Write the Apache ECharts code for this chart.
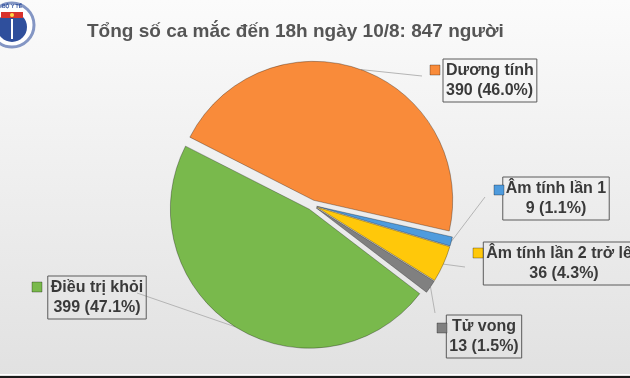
<!DOCTYPE html>
<html>
<head>
<meta charset="utf-8">
<script src="https://cdn.jsdelivr.net/npm/echarts@6/dist/echarts.min.js"></script>
<style>
  html, body { margin: 0; padding: 0; }
  #chart { width: 630px; height: 378px; }
</style>
</head>
<body>
<div id="chart"></div>
<script>
// dữ liệu biểu đồ
const categories = ['Dương tính', 'Âm tính lần 1', 'Âm tính lần 2 trở lên', 'Tử vong', 'Điều trị khỏi'];
const values = [390, 9, 36, 13, 399];
const colors = ['#F98B3A', '#4E9BDD', '#FFC80A', '#808080', '#79B94C'];

const total = values.reduce((a, b) => a + b, 0);

// bố cục
const CENTER = [312, 205];
const RADIUS = 139;
const START = 153;
const EXPLODE = 5; // độ tách miếng (px)

// vị trí hộp nhãn + điểm cuối đường dẫn
const labelBoxes = [
  { x: 443, y: 59, align: 'left', end: [422, 76] },
  { x: 556, y: 177, align: 'center', end: [485, 197] },
  { x: 564, y: 242, align: 'center', end: [465, 267] },
  { x: 484, y: 315, align: 'center', end: [435, 313] },
  { x: 97, y: 276, align: 'center', end: [137, 293] },
];
// vị trí ô màu chú giải
const markerPos = [[430, 65], [494, 185], [473, 248], [437, 323], [32, 282]];

const myChart = echarts.init(document.getElementById('chart'));

// mỗi miếng là một series riêng (cùng dữ liệu) để dịch tâm ra ngoài
let cum = 0;
const series = categories.map((cat, k) => {
  const mid = START - 360 * (cum + values[k] / 2) / total;
  cum += values[k];
  const rad = mid * Math.PI / 180;
  const cx = CENTER[0] + EXPLODE * Math.cos(rad);
  const cy = CENTER[1] - EXPLODE * Math.sin(rad);
  return {
    name: cat,
    type: 'pie',
    center: [cx, cy],
    radius: RADIUS,
    startAngle: START,
    clockwise: true,
    avoidLabelOverlap: false,
    silent: true,
    emphasis: { disabled: true },
    label: {
      position: 'outside',
      formatter: p => `${p.name}\n${p.value} (${(p.value / total * 100).toFixed(1)}%)`,
      color: '#3a3a3a',
      fontSize: 16,
      fontWeight: 'bold',
      fontFamily: 'Liberation Sans, Arial, sans-serif',
      lineHeight: 20,
      borderColor: '#5a5a5a',
      borderWidth: 1,
      padding: [2, 3, 1, 3],
    },
    labelLine: {
      lineStyle: { color: '#b5b5b5', width: 1 },
    },
    labelLayout: params => {
      const b = labelBoxes[params.dataIndex];
      const pts = params.labelLinePoints;
      const res = { x: b.x, y: b.y, align: b.align, verticalAlign: 'top' };
      if (pts && pts.length) res.labelLinePoints = [pts[0], b.end, b.end];
      return res;
    },
    data: categories.map((name, i) => ({
      name,
      value: values[i],
      itemStyle: i === k
        ? { color: colors[i], borderColor: 'rgba(0,0,0,0.3)', borderWidth: 1 }
        : { color: 'transparent', borderWidth: 0 },
      label: { show: i === k },
      labelLine: { show: i === k },
    })),
  };
});

const option = {
  backgroundColor: {
    type: 'linear', x: 0, y: 0, x2: 0, y2: 1,
    colorStops: [{ offset: 0, color: '#fbfbfb' }, { offset: 1, color: '#e1e1e1' }],
  },
  animation: false,
  title: {
    text: 'Tổng số ca mắc đến 18h ngày 10/8: 847 người',
    left: 82,
    top: 17,
    textStyle: {
      color: '#555555',
      fontSize: 19,
      fontWeight: 'bold',
      fontFamily: 'Liberation Sans, Arial, sans-serif',
    },
  },
  series,
  graphic: [
    // logo Bộ Y tế (đơn giản hoá)
    {
      type: 'group',
      x: -11,
      y: 2,
      children: [
        { type: 'circle', shape: { cx: 23, cy: 23, r: 22 }, style: { fill: '#ffffff', stroke: '#8496c4', lineWidth: 3 } },
        { type: 'circle', shape: { cx: 23, cy: 25, r: 15 }, style: { fill: '#2f4f9c' } },
        { type: 'rect', shape: { x: 12, y: 10, width: 22, height: 6 }, style: { fill: '#d8322c' } },
        { type: 'circle', shape: { cx: 23, cy: 13, r: 2 }, style: { fill: '#ffd84a' } },
        { type: 'rect', shape: { x: 22, y: 17, width: 2, height: 20 }, style: { fill: '#ffffff' } },
        { type: 'text', style: { x: 23, y: 2, text: 'BỘ Y TẾ', fill: '#2f4f9c', font: 'bold 5px sans-serif', align: 'center' } },
      ],
    },
    // ô màu chú giải
    ...markerPos.map((p, i) => ({
      type: 'rect',
      shape: { x: p[0], y: p[1], width: 10, height: 10 },
      style: { fill: colors[i], stroke: 'rgba(0,0,0,0.3)', lineWidth: 1 },
      z: 10,
    })),
    // viền dưới
    { type: 'rect', shape: { x: 0, y: 374, width: 630, height: 1 }, style: { fill: '#ffffff' } },
    { type: 'rect', shape: { x: 0, y: 376, width: 630, height: 2 }, style: { fill: '#1a1a1a' } },
  ],
};

myChart.setOption(option);
window.addEventListener('resize', () => myChart.resize());
</script>
</body>
</html>
